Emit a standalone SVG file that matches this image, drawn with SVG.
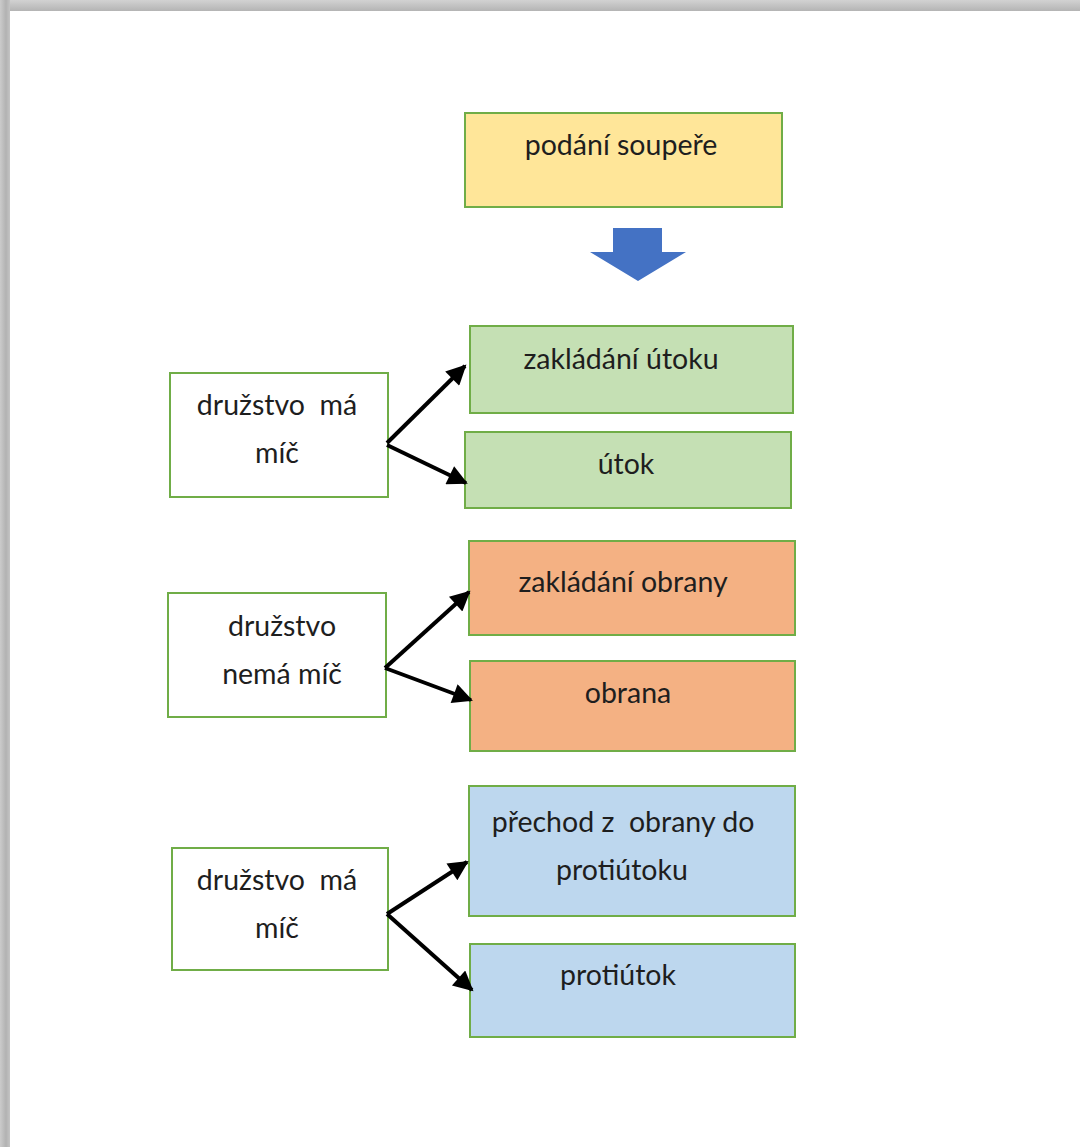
<svg xmlns="http://www.w3.org/2000/svg" width="1080" height="1147" viewBox="0 0 1080 1147">
<defs>
<linearGradient id="gTop" x1="0" y1="0" x2="0" y2="1">
<stop offset="0" stop-color="#d2d2d2"/><stop offset="1" stop-color="#b4b4b4"/>
</linearGradient>
<linearGradient id="gLeft" x1="0" y1="0" x2="1" y2="0">
<stop offset="0" stop-color="#cbcbcb"/><stop offset="0.6" stop-color="#b2b2b2"/><stop offset="1" stop-color="#c4c4c4"/>
</linearGradient>
<marker id="ah" viewBox="0 0 10 10" refX="9" refY="5" markerWidth="5.5" markerHeight="5" orient="auto" markerUnits="strokeWidth">
<path d="M0,0 L10,5 L0,10 Z" fill="#000"/>
</marker>
</defs>
<style>
.box{stroke:#70AD47;stroke-width:2}
.t{font-family:Lato,"Open Sans","Noto Sans",sans-serif;font-size:28.5px;fill:#1e1e1e;white-space:pre}
.c{stroke:#000;stroke-width:4;fill:none;marker-end:url(#ah)}
</style>
<rect x="0" y="0" width="1080" height="1147" fill="#c8c8c8"/>
<rect x="0" y="0" width="1080" height="11" fill="url(#gTop)"/>
<rect x="0" y="0" width="10" height="1147" fill="url(#gLeft)"/>
<rect x="10" y="11" width="1070" height="1136" fill="#ffffff"/>

<g id="podani">
<rect class="box" x="465" y="113" width="317" height="94" fill="#FFE699"/>
<text class="t" x="621" y="155" text-anchor="middle">podání soupeře</text>
</g>

<g id="bigArrow">
<path d="M613,228 H662 V252 H686 L638,281 L590,252 H613 Z" fill="#4472C4"/>
</g>

<g id="mam1">
<rect class="box" x="170" y="373" width="218" height="124" fill="#fff"/>
<text class="t" x="277" y="415" text-anchor="middle" xml:space="preserve">družstvo  má</text>
<text class="t" x="277" y="463" text-anchor="middle">míč</text>
</g>

<g id="zakladaniUtoku">
<rect class="box" x="470" y="326" width="323" height="87" fill="#C5E0B4"/>
<text class="t" x="621" y="369" text-anchor="middle">zakládání útoku</text>
</g>

<g id="utok">
<rect class="box" x="465" y="432" width="326" height="76" fill="#C5E0B4"/>
<text class="t" x="626" y="474" text-anchor="middle">útok</text>
</g>

<g id="nemam">
<rect class="box" x="168" y="593" width="218" height="124" fill="#fff"/>
<text class="t" x="282" y="636" text-anchor="middle">družstvo</text>
<text class="t" x="282" y="684" text-anchor="middle">nemá míč</text>
</g>

<g id="zakladaniObrany">
<rect class="box" x="469" y="541" width="326" height="94" fill="#F4B183"/>
<text class="t" x="623" y="592" text-anchor="middle">zakládání obrany</text>
</g>

<g id="obrana">
<rect class="box" x="470" y="661" width="325" height="90" fill="#F4B183"/>
<text class="t" x="628" y="703" text-anchor="middle">obrana</text>
</g>

<g id="mam2">
<rect class="box" x="172" y="848" width="216" height="122" fill="#fff"/>
<text class="t" x="277" y="890" text-anchor="middle" xml:space="preserve">družstvo  má</text>
<text class="t" x="277" y="938" text-anchor="middle">míč</text>
</g>

<g id="prechod">
<rect class="box" x="469" y="786" width="326" height="130" fill="#BDD7EE"/>
<text class="t" x="623" y="832" text-anchor="middle" xml:space="preserve">přechod z  obrany do</text>
<text class="t" x="622" y="880" text-anchor="middle">protiútoku</text>
</g>

<g id="protiutok">
<rect class="box" x="470" y="944" width="325" height="93" fill="#BDD7EE"/>
<text class="t" x="618" y="985" text-anchor="middle">protiútok</text>
</g>

<g id="connectors">
<path class="c" d="M387,443 L465,366"/>
<path class="c" d="M387,445 L466,483"/>
<path class="c" d="M385,668 L469,592"/>
<path class="c" d="M385,668 L471,700"/>
<path class="c" d="M387,914 L467,862"/>
<path class="c" d="M387,914 L472,990"/>
</g>
</svg>
